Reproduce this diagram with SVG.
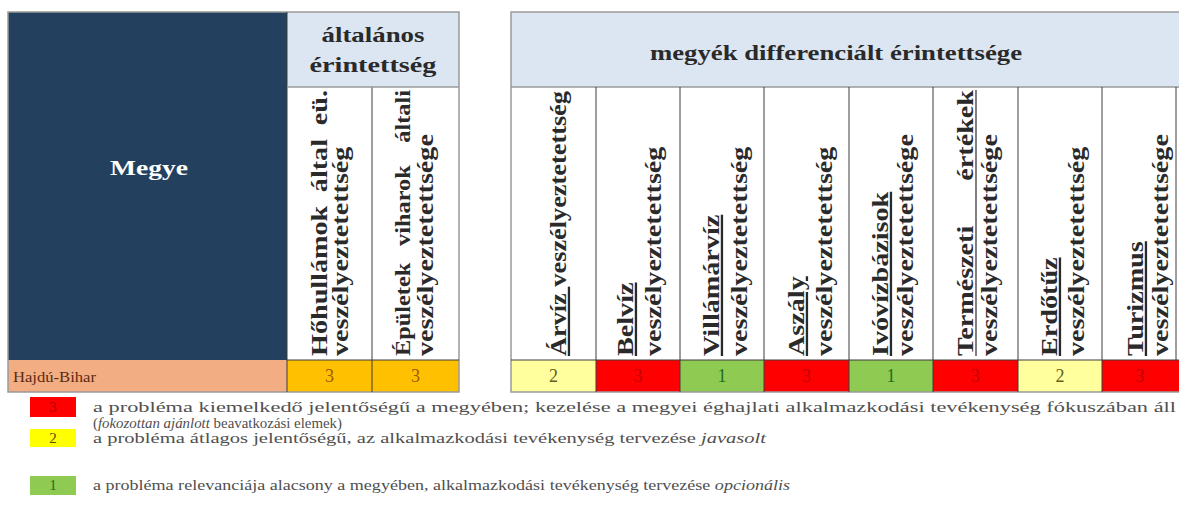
<svg xmlns="http://www.w3.org/2000/svg" width="1179" height="516" viewBox="0 0 1179 516">
<style>
.hdr{font-family:"Liberation Serif",serif;font-weight:bold;font-size:22px;fill:#2a2a2a;}
.rot{font-family:"Liberation Serif",serif;font-weight:bold;font-size:22px;fill:#2a2a2a;}
.rs{font-size:19px;}
.u{text-decoration:underline;}
.val{font-family:"Liberation Serif",serif;font-size:18px;text-anchor:middle;}
.lval{font-family:"Liberation Serif",serif;font-size:15px;text-anchor:middle;}
.leg{font-family:"Liberation Serif",serif;font-size:15px;fill:#505050;}
.it{font-style:italic;}
.grid{stroke:#3c3c3c;stroke-width:1;fill:none;}
.outer{stroke:#9a9a9a;stroke-width:1.5;fill:none;}
</style>
<rect width="1179" height="516" fill="#ffffff"/>

<!-- Left table -->
<g id="megye-header">
<rect x="8" y="12" width="279" height="348" fill="#23405f"/>
<text x="149" y="175" text-anchor="middle" font-family="Liberation Serif, serif" font-weight="bold" font-size="22" fill="#ffffff" textLength="78" lengthAdjust="spacingAndGlyphs">Megye</text>
</g>
<g id="altalanos-header">
<rect x="287" y="12" width="172" height="75" fill="#dce6f2"/>
<text class="hdr" x="373" y="42" text-anchor="middle" textLength="103" lengthAdjust="spacingAndGlyphs">általános</text>
<text class="hdr" x="373" y="72" text-anchor="middle" textLength="127" lengthAdjust="spacingAndGlyphs">érintettség</text>
</g>
<g id="col-hohullamok">
<rect x="287" y="87" width="85" height="273" fill="#ffffff"/>
<text class="rot" transform="translate(327,356) rotate(-90) scale(1.28,1.05)" x="0">Hőhullámok</text>
<text class="rot" transform="translate(327,356) rotate(-90) scale(1.28,1.05)" x="128">által</text>
<text class="rot" transform="translate(327,356) rotate(-90) scale(1.28,1.05)" x="207.8" text-anchor="end">eü.</text>
<text class="rot" transform="translate(348,356) rotate(-90) scale(1.28,1.05)">veszélyeztetettség</text>
</g>
<g id="col-epuletek">
<rect x="372" y="87" width="87" height="273" fill="#ffffff"/>
<text class="rot rs" transform="translate(410,356) rotate(-90) scale(1.28,1.12)" x="0">Épületek</text>
<text class="rot rs" transform="translate(410,356) rotate(-90) scale(1.28,1.12)" x="86">viharok</text>
<text class="rot rs" transform="translate(410,356) rotate(-90) scale(1.28,1.12)" x="207.8" text-anchor="end">általi</text>
<text class="rot" transform="translate(433,356) rotate(-90) scale(1.28,1.05)">veszélyeztetettsége</text>
</g>
<g id="row-left">
<rect x="8" y="360" width="279" height="32" fill="#f2ad82"/>
<text x="13" y="382" font-family="Liberation Serif, serif" font-size="15" fill="#5b2a12" textLength="83" lengthAdjust="spacingAndGlyphs">Hajdú-Bihar</text>
<rect x="287" y="360" width="85" height="32" fill="#ffc000"/>
<text class="val" x="329.5" y="382" fill="#9c5c00">3</text>
<rect x="372" y="360" width="87" height="32" fill="#ffc000"/>
<text class="val" x="415.5" y="382" fill="#9c5c00">3</text>
</g>

<!-- Right table -->
<g id="megyek-header">
<rect x="511" y="12" width="668" height="75" fill="#dce6f2"/>
<text class="hdr" x="836" y="60" text-anchor="middle" textLength="372" lengthAdjust="spacingAndGlyphs">megyék differenciált érintettsége</text>
</g>
<g id="col-arviz">
<text class="rot" transform="translate(566,356) rotate(-90) scale(1.28,1.05)" textLength="207" lengthAdjust="spacingAndGlyphs"><tspan class="u">Árvíz </tspan>veszélyeztetettség</text>
</g>
<g id="col-belviz">
<text class="rot u" transform="translate(633,356) rotate(-90) scale(1.28,1.05)">Belvíz</text>
<text class="rot" transform="translate(661,356) rotate(-90) scale(1.28,1.05)">veszélyeztetettség</text>
</g>
<g id="col-villamarviz">
<text class="rot u" transform="translate(719,356) rotate(-90) scale(1.28,1.05)">Villámárvíz</text>
<text class="rot" transform="translate(747,356) rotate(-90) scale(1.28,1.05)">veszélyeztetettség</text>
</g>
<g id="col-aszaly">
<text class="rot u" transform="translate(804,356) rotate(-90) scale(1.28,1.05)">Aszály</text>
<text class="rot" transform="translate(832,356) rotate(-90) scale(1.28,1.05)">veszélyeztetettség</text>
</g>
<g id="col-ivoviz">
<text class="rot u" transform="translate(888,356) rotate(-90) scale(1.28,1.05)">Ivóvízbázisok</text>
<text class="rot" transform="translate(913,356) rotate(-90) scale(1.28,1.05)">veszélyeztetettsége</text>
</g>
<g id="col-termeszeti">
<text class="rot" transform="translate(973,356) rotate(-90) scale(1.28,1.05)" x="0">Természeti</text>
<text class="rot" transform="translate(973,356) rotate(-90) scale(1.28,1.05)" x="207.8" text-anchor="end">értékek</text>
<line x1="976" y1="356" x2="976" y2="90" stroke="#2a2a2a" stroke-width="1.2"/>
<text class="rot" transform="translate(997,356) rotate(-90) scale(1.28,1.05)">veszélyeztetettsége</text>
</g>
<g id="col-erdotuz">
<text class="rot u" transform="translate(1057,356) rotate(-90) scale(1.28,1.05)">Erdőtűz</text>
<text class="rot" transform="translate(1084,356) rotate(-90) scale(1.28,1.05)">veszélyeztetettség</text>
</g>
<g id="col-turizmus">
<text class="rot u" transform="translate(1143,356) rotate(-90) scale(1.28,1.05)">Turizmus</text>
<text class="rot" transform="translate(1168,356) rotate(-90) scale(1.28,1.05)">veszélyeztetettsége</text>
</g>
<g id="row-right">
<rect x="511" y="360" width="85" height="32" fill="#ffff9e"/>
<text class="val" x="553.5" y="382" fill="#5f5f1a">2</text>
<rect x="596" y="360" width="84" height="32" fill="#fe0000"/>
<text class="val" x="638" y="382" fill="#c00000">3</text>
<rect x="680" y="360" width="84" height="32" fill="#8fcb52"/>
<text class="val" x="722" y="382" fill="#1f6b1f">1</text>
<rect x="764" y="360" width="85" height="32" fill="#fe0000"/>
<text class="val" x="806.5" y="382" fill="#c00000">3</text>
<rect x="849" y="360" width="84" height="32" fill="#8fcb52"/>
<text class="val" x="891" y="382" fill="#1f6b1f">1</text>
<rect x="933" y="360" width="85" height="32" fill="#fe0000"/>
<text class="val" x="975.5" y="382" fill="#c00000">3</text>
<rect x="1018" y="360" width="84" height="32" fill="#ffff9e"/>
<text class="val" x="1060" y="382" fill="#5f5f1a">2</text>
<rect x="1102" y="360" width="77" height="32" fill="#fe0000"/>
<text class="val" x="1140" y="382" fill="#c00000">3</text>
</g>

<!-- grid lines -->
<g id="connectors">
<rect class="outer" x="8" y="12" width="451" height="380"/>
<line class="grid" x1="287" y1="12" x2="287" y2="392"/>
<line class="grid" x1="372" y1="87" x2="372" y2="392"/>
<line class="outer" x1="287" y1="87" x2="459" y2="87"/>
<line class="grid" x1="287" y1="360" x2="459" y2="360"/>
<path class="outer" d="M1179,12 H511 V392 H1179"/>
<line class="outer" x1="511" y1="87" x2="1179" y2="87"/>
<line class="grid" x1="511" y1="360" x2="1179" y2="360"/>
<line class="grid" x1="596" y1="87" x2="596" y2="392"/>
<line class="grid" x1="680" y1="87" x2="680" y2="392"/>
<line class="grid" x1="764" y1="87" x2="764" y2="392"/>
<line class="grid" x1="849" y1="87" x2="849" y2="392"/>
<line class="grid" x1="933" y1="87" x2="933" y2="392"/>
<line class="grid" x1="1018" y1="87" x2="1018" y2="392"/>
<line class="grid" x1="1102" y1="87" x2="1102" y2="392"/>
<line class="grid" x1="1176" y1="87" x2="1176" y2="360"/>
</g>

<!-- legend -->
<g id="legend-3">
<rect x="30" y="397" width="46" height="20" fill="#fe0000"/>
<text class="lval" x="53" y="412" fill="#b00000">3</text>
<text class="leg" x="93" y="412" textLength="1083" lengthAdjust="spacingAndGlyphs">a probléma kiemelkedő jelentőségű a megyében; kezelése a megyei éghajlati alkalmazkodási tevékenység fókuszában áll</text>
<text class="leg" x="93" y="428" textLength="249" lengthAdjust="spacingAndGlyphs">(<tspan class="it">fokozottan ajánlott</tspan> beavatkozási elemek)</text>
</g>
<g id="legend-2">
<rect x="30" y="429" width="46" height="18" fill="#ffff00"/>
<text class="lval" x="53" y="443" fill="#5a4a00">2</text>
<text class="leg" x="93" y="443" textLength="673" lengthAdjust="spacingAndGlyphs">a probléma átlagos jelentőségű, az alkalmazkodási tevékenység tervezése <tspan class="it">javasolt</tspan></text>
</g>
<g id="legend-1">
<rect x="30" y="476" width="46" height="19" fill="#8fcb52"/>
<text class="lval" x="53" y="490" fill="#1f6b1f">1</text>
<text class="leg" x="93" y="490" textLength="697" lengthAdjust="spacingAndGlyphs">a probléma relevanciája alacsony a megyében, alkalmazkodási tevékenység tervezése <tspan class="it">opcionális</tspan></text>
</g>
</svg>
